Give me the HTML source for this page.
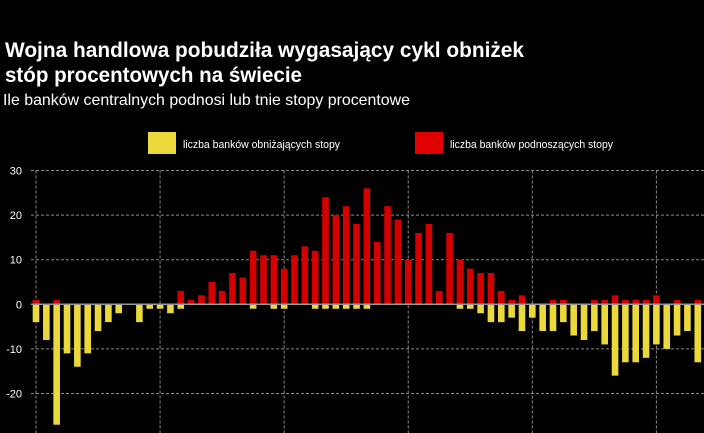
<!DOCTYPE html>
<html><head><meta charset="utf-8"><style>
html,body{margin:0;padding:0;background:#000;width:704px;height:433px;overflow:hidden}
svg{display:block;font-family:"Liberation Sans",sans-serif}
</style></head><body>
<svg id="chart" width="704" height="433" viewBox="0 0 704 433">
<text x="5" y="57" fill="#fff" font-weight="bold" font-size="21" textLength="519" lengthAdjust="spacingAndGlyphs">Wojna handlowa pobudziła wygasający cykl obniżek</text>
<text x="5" y="82" fill="#fff" font-weight="bold" font-size="21" textLength="297" lengthAdjust="spacingAndGlyphs">stóp procentowych na świecie</text>
<text x="3" y="105" fill="#fff" font-size="16" textLength="407" lengthAdjust="spacingAndGlyphs">Ile banków centralnych podnosi lub tnie stopy procentowe</text>
<g>
<rect x="148" y="132" width="28" height="22" fill="#ebd93c"/>
<text x="183" y="148" fill="#fff" font-size="11" textLength="157" lengthAdjust="spacingAndGlyphs">liczba banków obniżających stopy</text>
<rect x="415" y="132" width="28" height="22" fill="#e00000"/>
<text x="450" y="148" fill="#fff" font-size="11" textLength="163" lengthAdjust="spacingAndGlyphs">liczba banków podnoszących stopy</text>
</g>
<g id="grid"></g><g id="bars"></g><g id="axis"></g>
</svg>
<script>
const hikes=[1,0,1,0,0,0,0,0,0,0,0,0,0,0,3,1,2,5,3,7,6,12,11,11,8,11,13,12,24,20,22,18,26,14,22,19,10,16,18,3,16,10,8,7,7,3,1,2,0,0,1,1,0,0,1,1,2,1,1,1,2,0,1,0,1];
const cuts=[-4,-8,-27,-11,-14,-11,-6,-4,-2,0,-4,-1,-1,-2,-1,0,0,0,0,0,0,-1,0,-1,-1,0,0,-1,-1,-1,-1,-1,-1,0,0,0,0,0,0,0,0,-1,-1,-2,-4,-4,-3,-6,-3,-6,-6,-4,-7,-8,-6,-9,-16,-13,-13,-12,-9,-10,-7,-6,-13];
const yTicks=[30,20,10,0,-10,-20];
const NS="http://www.w3.org/2000/svg";
const y0=304.3,pxPerUnit=4.46,x0=36,step=10.34,bw=6.6;
const yS=v=>y0-v*pxPerUnit;
const xS=i=>x0+i*step;
const grid=document.getElementById('grid'),bars=document.getElementById('bars'),axis=document.getElementById('axis');
function mk(tag,attrs,parent){const e=document.createElementNS(NS,tag);for(const k in attrs)e.setAttribute(k,attrs[k]);parent.appendChild(e);return e;}
yTicks.forEach(t=>{
  if(t!==0){const l=mk('line',{x1:31,x2:704,y1:yS(t),y2:yS(t),stroke:'#8a8a8a','stroke-width':1,'stroke-dasharray':'3,2'},grid);
  
  }
  const tx=mk('text',{x:22,y:yS(t)+4,fill:'#fff','font-size':11,'text-anchor':'end'},axis);
  tx.textContent=t;
  
  
});
for(let i=0;i<hikes.length;i+=12){
  const l=mk('line',{x1:xS(i),x2:xS(i),y1:yS(30),y2:433,stroke:'#8a8a8a','stroke-width':1,'stroke-dasharray':'3,2'},grid);
  
  
}
hikes.forEach((v,i)=>{ if(v>0){
  const r=mk('rect',{x:xS(i)-bw/2,y:yS(v),width:bw,height:yS(0)-yS(v),fill:'#d40000'},bars);
  
  }});
cuts.forEach((v,i)=>{ if(v<0){
  const r=mk('rect',{x:xS(i)-bw/2,y:yS(0),width:bw,height:yS(v)-yS(0),fill:'#ebd93c'},bars);
  
  }});
const z=mk('line',{x1:31,x2:704,y1:y0,y2:y0,stroke:'#999','stroke-width':1.5},axis);


</script>
</body></html>
